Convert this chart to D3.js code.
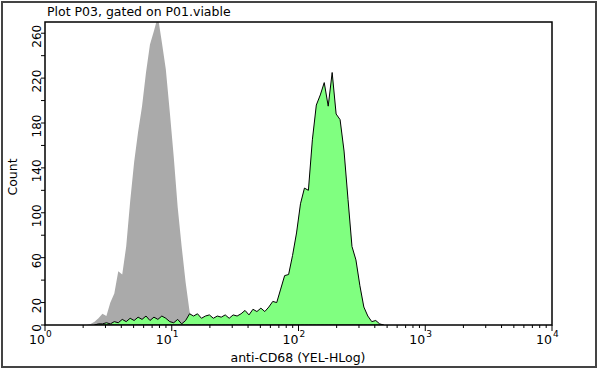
<!DOCTYPE html>
<html lang="en">
<head>
<meta charset="utf-8">
<style>
  body { margin: 0; background: #fff; }
  text { font-family: "DejaVu Sans", Verdana, sans-serif; fill: #000; }
</style>
</head>
<body>
<script src="https://cdn.jsdelivr.net/npm/d3@7"></script>
<script>
// histogram bins: 128 channels spread over 4 decades
var binsPerDecade = 32;
var grayStart = 10;
var grayCounts = [0, 1, 3, 6, 10, 8, 20, 28, 48, 45, 70, 110, 145, 172, 195, 225, 250,
  262, 275, 252, 228, 190, 150, 105, 70, 38, 12, 1, 0];
var greenStart = 12;
var greenCounts = [0, 1, 1, 2, 1, 3, 2, 5, 3, 6, 4, 7, 5, 8, 4, 7, 5, 8, 6, 3, 2, 5, 1, 4,
  10, 8, 10, 6, 8, 9, 6, 8, 7, 9, 6, 9, 8, 10, 13, 9, 14, 12, 15, 12, 16, 21, 20, 32,
  44, 45, 62, 82, 108, 122, 120, 165, 196, 205, 216, 195, 225, 188, 183, 155, 112, 70,
  58, 35, 16, 8, 3, 4, 1, 0];
var yTicks = [0, 20, 40, 60, 80, 100, 120, 140, 160, 180, 200, 220, 240, 260];
var yLabels = [0, 20, 60, 100, 140, 180, 220, 260];
var xDecades = [1, 10, 100, 1000, 10000];

var W = 600, H = 371;
var margin = {top: 22, right: 48, bottom: 46, left: 45};

var svg = d3.select("body").append("svg")
  .attr("width", W).attr("height", H);

// outer frame
svg.append("rect")
  .attr("x", 2).attr("y", 2).attr("width", 594).attr("height", 365)
  .attr("fill", "none").attr("stroke", "#444").attr("stroke-width", 2);

var x = d3.scaleLog().domain([1, 1e4]).range([margin.left, W - margin.right]);
var y = d3.scaleLinear().domain([0, 270]).range([H - margin.bottom, margin.top]);

svg.append("clipPath").attr("id", "plotclip")
  .append("rect")
  .attr("x", margin.left).attr("y", margin.top)
  .attr("width", x.range()[1] - margin.left)
  .attr("height", y.range()[0] - margin.top);

function toPoints(start, counts) {
  return counts.map(function(c, i) {
    return {mid: Math.pow(10, (start + i + 0.5) / binsPerDecade), c: c};
  });
}

var area = d3.area()
  .x(function(d) { return x(d.mid); })
  .y0(y(0))
  .y1(function(d) { return y(d.c); });

var plot = svg.append("g").attr("clip-path", "url(#plotclip)");

// gray histogram
plot.append("path")
  .datum(toPoints(grayStart, grayCounts))
  .attr("fill", "#aaaaaa")
  .attr("d", area);

// green histogram (outlined)
plot.append("path")
  .datum(toPoints(greenStart, greenCounts))
  .attr("fill", "#80ff80")
  .attr("stroke", "#000")
  .attr("stroke-width", 1)
  .attr("stroke-linejoin", "round")
  .attr("d", area);

// plot box
svg.append("rect")
  .attr("x", margin.left).attr("y", margin.top)
  .attr("width", x.range()[1] - margin.left)
  .attr("height", y.range()[0] - margin.top)
  .attr("fill", "none").attr("stroke", "#000").attr("stroke-width", 1.5);

// y axis ticks and labels
svg.selectAll(".ytick").data(yTicks).enter().append("line")
  .attr("x1", margin.left - 4).attr("x2", margin.left)
  .attr("y1", function(d) { return y(d); }).attr("y2", function(d) { return y(d); })
  .attr("stroke", "#000");

svg.selectAll(".ylab").data(yLabels).enter().append("text")
  .attr("transform", function(d) { return "translate(41," + (y(d) + 3) + ") rotate(-90)"; })
  .attr("text-anchor", "middle")
  .attr("font-size", "12px")
  .text(function(d) { return d; });

// x axis ticks
var minor = [];
xDecades.slice(0, -1).forEach(function(dec) {
  for (var k = 2; k < 10; k++) minor.push(dec * k);
});
svg.selectAll(".xminor").data(minor).enter().append("line")
  .attr("x1", function(d) { return x(d); }).attr("x2", function(d) { return x(d); })
  .attr("y1", y(0)).attr("y2", y(0) + 3)
  .attr("stroke", "#000");
svg.selectAll(".xmajor").data(xDecades).enter().append("line")
  .attr("x1", function(d) { return x(d); }).attr("x2", function(d) { return x(d); })
  .attr("y1", y(0)).attr("y2", y(0) + 6)
  .attr("stroke", "#000");

var xl = svg.selectAll(".xlab").data(xDecades).enter().append("g");
xl.append("text")
  .attr("x", function(d) { return x(d); }).attr("y", 344)
  .attr("text-anchor", "end")
  .attr("font-size", "12.5px")
  .text("10");
xl.append("text")
  .attr("x", function(d) { return x(d) + 1; }).attr("y", 337)
  .attr("font-size", "9px")
  .text(function(d) { return Math.round(Math.log10(d)); });

// titles
svg.append("text")
  .attr("x", 47).attr("y", 16)
  .attr("font-size", "12.5px")
  .text("Plot P03, gated on P01.viable");

svg.append("text")
  .attr("x", 298).attr("y", 362)
  .attr("text-anchor", "middle")
  .attr("font-size", "12.5px")
  .text("anti-CD68 (YEL-HLog)");

svg.append("text")
  .attr("transform", "translate(17,177) rotate(-90)")
  .attr("text-anchor", "middle")
  .attr("font-size", "12.5px")
  .text("Count");
</script>
</body>
</html>
